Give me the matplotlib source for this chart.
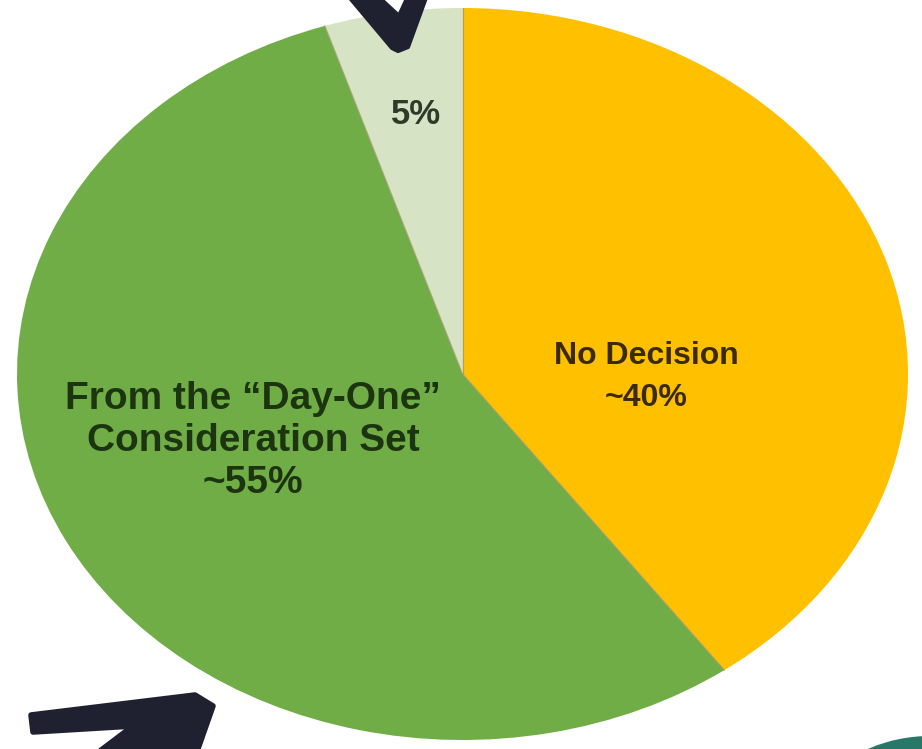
import numpy as np
import matplotlib.pyplot as plt
from matplotlib.patches import Polygon, Circle

# pie data (clockwise from 12 o'clock)
labels = ["No Decision\n~40%", "From the \u201cDay-One\u201d\nConsideration Set\n~55%", "5%"]
shares = [40, 55, 5]
colors = ["#FFC000", "#70AD47", "#D6E3C5"]
text_colors = ["#3a2a05", "#1c3510", "#2f3a2a"]

W, H = 922, 749
fig = plt.figure(figsize=(W / 100, H / 100), dpi=100)
fig.patch.set_facecolor("white")

# pie axes spans the (elliptical) pie's bounding box
x0, x1, y0, y1 = 17, 908, 8, 740
ax = fig.add_axes([x0 / W, (H - y1) / H, (x1 - x0) / W, (y1 - y0) / H])
ax.pie(shares, colors=colors, startangle=90, counterclock=False, radius=1,
       wedgeprops=dict(linewidth=0))
ax.set_aspect("auto")
ax.set_xlim(-1, 1)
ax.set_ylim(-1, 1)
ax.axis("off")

# thin separators between slices
bounds = 90 - 360 * np.cumsum([0] + shares[:-1]) / sum(shares)
for a in np.deg2rad(bounds):
    ax.plot([0, np.cos(a)], [0, np.sin(a)], color="#a39a6a", lw=0.9, alpha=0.8)

# overlay in pixel coordinates for labels and decorations
ov = fig.add_axes([0, 0, 1, 1], zorder=5)
ov.set_xlim(0, W)
ov.set_ylim(H, 0)
ov.axis("off")
ov.patch.set_alpha(0)

label_pos = [(646, 377), (253, 441), (416, 114)]
label_size = [23, 28, 25]
label_spacing = [1.5, 1.2, 1.0]
for lab, (tx, ty), fs, tc, ls in zip(labels, label_pos, label_size, text_colors, label_spacing):
    ov.text(tx, ty, lab, ha="center", va="center", fontsize=fs,
            fontweight="bold", family="Liberation Sans", color=tc,
            linespacing=ls, multialignment="center")

arrow_col = "#1f2130"
top_arrow = [(345, -8), (373, -8), (399, 16), (410, -8), (428, -8),
             (408, 47), (398, 51), (392, 48)]
ov.add_patch(Polygon(top_arrow, closed=True, facecolor=arrow_col,
                     edgecolor=arrow_col, linewidth=3, joinstyle="round"))
low_arrow = [(31, 715), (195, 695), (213, 706), (194, 760), (88, 760),
             (133, 726), (33, 732)]
ov.add_patch(Polygon(low_arrow, closed=True, facecolor=arrow_col,
                     edgecolor=arrow_col, linewidth=4, joinstyle="round"))

ov.add_patch(Circle((930, 892), 156, facecolor="#287869", edgecolor="none"))

fig.savefig("out.png", dpi=100, facecolor="white")
